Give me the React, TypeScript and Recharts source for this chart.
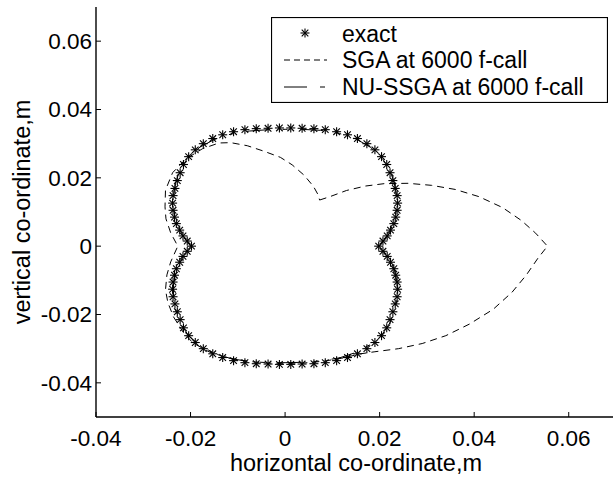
import { ScatterChart, Scatter, XAxis, YAxis } from "recharts";

// exact boundary (x, y in m)
const exactPts: number[][] = [
  [0.0198, 0], [0.0207, 0.0015], [0.0216, 0.003], [0.0223, 0.0047], [0.023, 0.0066], [0.0234, 0.0085],
  [0.0237, 0.0105], [0.0238, 0.0126], [0.0237, 0.0148], [0.0233, 0.0169], [0.0228, 0.0192], [0.0222, 0.0215],
  [0.0215, 0.0239], [0.0204, 0.0262], [0.019, 0.0282], [0.0173, 0.03], [0.0153, 0.0315], [0.0132, 0.0326],
  [0.0109, 0.0335], [0.0085, 0.0341], [0.0061, 0.0344], [0.0036, 0.0345], [0.0012, 0.0346],
  [-0.0012, 0.0346], [-0.0036, 0.0345], [-0.0061, 0.0344], [-0.0085, 0.0341], [-0.0109, 0.0335], [-0.0132, 0.0326],
  [-0.0153, 0.0315], [-0.0173, 0.03], [-0.019, 0.0282], [-0.0204, 0.0262], [-0.0215, 0.0239], [-0.0222, 0.0215],
  [-0.0228, 0.0192], [-0.0233, 0.0169], [-0.0237, 0.0148], [-0.0238, 0.0126], [-0.0237, 0.0105], [-0.0234, 0.0085],
  [-0.023, 0.0066], [-0.0223, 0.0047], [-0.0216, 0.003], [-0.0207, 0.0015],
  [-0.0198, 0],
  [-0.0207, -0.0015], [-0.0216, -0.003], [-0.0223, -0.0047], [-0.023, -0.0066], [-0.0234, -0.0085], [-0.0237, -0.0105],
  [-0.0238, -0.0126], [-0.0237, -0.0148], [-0.0233, -0.0169], [-0.0228, -0.0192], [-0.0222, -0.0215], [-0.0215, -0.0239],
  [-0.0204, -0.0262], [-0.019, -0.0282], [-0.0173, -0.03], [-0.0153, -0.0315], [-0.0132, -0.0326], [-0.0109, -0.0335],
  [-0.0085, -0.0341], [-0.0061, -0.0344], [-0.0036, -0.0345], [-0.0012, -0.0346],
  [0.0012, -0.0346], [0.0036, -0.0345], [0.0061, -0.0344], [0.0085, -0.0341], [0.0109, -0.0335], [0.0132, -0.0326],
  [0.0153, -0.0315], [0.0173, -0.03], [0.019, -0.0282], [0.0204, -0.0262], [0.0215, -0.0239], [0.0222, -0.0215],
  [0.0228, -0.0192], [0.0233, -0.0169], [0.0237, -0.0148], [0.0238, -0.0126], [0.0237, -0.0105], [0.0234, -0.0085],
  [0.023, -0.0066], [0.0223, -0.0047], [0.0216, -0.003], [0.0207, -0.0015],
];

// SGA result at 6000 f-call
const sgaPts: number[][] = [
  [0.0073, 0.0135], [0.0095, 0.0145], [0.013, 0.0163], [0.017, 0.0176], [0.021, 0.0183], [0.026, 0.0184],
  [0.031, 0.0178], [0.036, 0.0166], [0.041, 0.0145], [0.046, 0.0113], [0.05, 0.0075], [0.053, 0.0038],
  [0.0555, 0], [0.0535, -0.0035], [0.051, -0.0085], [0.048, -0.0135], [0.044, -0.0185], [0.039, -0.0228],
  [0.034, -0.0262], [0.029, -0.0285], [0.024, -0.03], [0.019, -0.0309], [0.016, -0.0315], [0.012, -0.0328],
  [0.008, -0.0337], [0.004, -0.0342], [0, -0.0343], [-0.004, -0.0342], [-0.008, -0.0337], [-0.012, -0.0327],
  [-0.016, -0.031], [-0.0195, -0.0283], [-0.0215, -0.0253], [-0.0236, -0.0207], [-0.0248, -0.0165],
  [-0.0253, -0.0128], [-0.025, -0.0084], [-0.0242, -0.0046], [-0.0227, 0], [-0.0242, 0.0039], [-0.0252, 0.008],
  [-0.0254, 0.0115], [-0.0253, 0.0164], [-0.0238, 0.0215], [-0.021, 0.0255], [-0.0175, 0.0285], [-0.014, 0.0302],
  [-0.0115, 0.0303], [-0.008, 0.0294], [-0.0045, 0.0278], [-0.001, 0.026], [0.0015, 0.0238], [0.004, 0.0208],
  [0.006, 0.0175], [0.007, 0.015], [0.0073, 0.0135],
];

// NU-SSGA result at 6000 f-call
const nuPts: number[][] = [
  [0.02, 0], [0.0218, 0.0032], [0.023, 0.007], [0.0236, 0.011], [0.0236, 0.015], [0.023, 0.019], [0.022, 0.0228],
  [0.0204, 0.026], [0.018, 0.029], [0.015, 0.0314], [0.0115, 0.033], [0.0075, 0.0339], [0.0035, 0.0342], [0, 0.0342],
  [-0.0035, 0.0341], [-0.0075, 0.0337], [-0.0115, 0.0328], [-0.015, 0.0312], [-0.018, 0.029], [-0.0205, 0.026],
  [-0.0222, 0.0225], [-0.0231, 0.0188], [-0.0236, 0.015], [-0.0236, 0.011], [-0.023, 0.007], [-0.0217, 0.0032],
  [-0.02, 0], [-0.0217, -0.0032], [-0.023, -0.007], [-0.0236, -0.011], [-0.0236, -0.015], [-0.0231, -0.019],
  [-0.0221, -0.0227], [-0.0204, -0.0262], [-0.018, -0.0291], [-0.015, -0.0313], [-0.0115, -0.0329], [-0.0075, -0.0338],
  [-0.0035, -0.0341], [0, -0.0341], [0.0035, -0.034], [0.0075, -0.0336], [0.0115, -0.0327], [0.015, -0.0311],
  [0.018, -0.0288], [0.0205, -0.0259], [0.0222, -0.0224], [0.0232, -0.0187], [0.0238, -0.0148], [0.0237, -0.0108],
  [0.0231, -0.0068], [0.0218, -0.0031], [0.02, 0],
];

const xTicks = [-0.04, -0.02, 0, 0.02, 0.04, 0.06];
const yTicks = [-0.04, -0.02, 0, 0.02, 0.04, 0.06];

const FONT = "'Liberation Sans', Arial, Helvetica, sans-serif";
const SGA_DASH = "7 5";
const NU_DASH = "23 13 5 13";

const toXY = (pts: number[][]) => pts.map(([x, y]) => ({ x, y }));

function Asterisk({ cx, cy }: { cx?: number; cy?: number }) {
  if (cx == null || cy == null) return <g />;
  return (
    <g stroke="#000" strokeWidth={1.1}>
      <line x1={cx - 4.5} y1={cy} x2={cx + 4.5} y2={cy} />
      <line x1={cx} y1={cy - 4.5} x2={cx} y2={cy + 4.5} />
      <line x1={cx - 3.3} y1={cy - 3.3} x2={cx + 3.3} y2={cy + 3.3} />
      <line x1={cx - 3.3} y1={cy + 3.3} x2={cx + 3.3} y2={cy - 3.3} />
    </g>
  );
}

const tickStyle = { fontSize: 22.5, fill: "#000", fontFamily: FONT };

export default function App() {
  return (
    <div style={{ position: "absolute", left: 0, top: 0, width: 613, height: 477, overflow: "hidden", background: "#fff" }}>
      <ScatterChart width={624} height={477} margin={{ top: 7, right: 8, bottom: 0, left: 0 }}>
        <XAxis
          xAxisId="b" type="number" dataKey="x" domain={[-0.04, 0.07]} ticks={xTicks} interval={0}
          allowDataOverflow height={60} tickSize={-5} tickMargin={18}
          stroke="#000" axisLine={{ stroke: "#000", strokeWidth: 1.4 }} tick={tickStyle}
          label={{ value: "horizontal co-ordinate,m", position: "insideBottom", offset: 6, style: { fontSize: 23.5, fill: "#000", fontFamily: FONT } }}
        />
        <XAxis
          xAxisId="t" orientation="top" type="number" dataKey="x" domain={[-0.04, 0.07]} ticks={xTicks} interval={0}
          allowDataOverflow height={0} tickSize={-5} tick={false} stroke="#000" axisLine={{ stroke: "#000", strokeWidth: 1.4 }}
        />
        <YAxis
          yAxisId="l" type="number" dataKey="y" domain={[-0.05, 0.07]} ticks={yTicks} interval={0}
          allowDataOverflow width={96} tickSize={-5} tickMargin={9}
          stroke="#000" axisLine={{ stroke: "#000", strokeWidth: 1.4 }} tick={tickStyle}
          label={{ value: "vertical co-ordinate,m", angle: -90, position: "insideLeft", offset: 22, style: { fontSize: 23.5, fill: "#000", fontFamily: FONT, textAnchor: "middle" } }}
        />
        <YAxis
          yAxisId="r" orientation="right" type="number" dataKey="y" domain={[-0.05, 0.07]} ticks={yTicks} interval={0}
          allowDataOverflow width={0} tickSize={-5} tick={false} stroke="#000"
        />
        <Scatter
          xAxisId="b" yAxisId="l" data={toXY(nuPts)} lineType="joint"
          line={{ stroke: "#000", strokeWidth: 1, strokeDasharray: NU_DASH }}
          shape={() => <g />} isAnimationActive={false}
        />
        <Scatter
          xAxisId="b" yAxisId="l" data={toXY(sgaPts)} lineType="joint"
          line={{ stroke: "#000", strokeWidth: 1, strokeDasharray: SGA_DASH }}
          shape={() => <g />} isAnimationActive={false}
        />
        <Scatter
          xAxisId="b" yAxisId="l" data={toXY(exactPts)}
          shape={(p: any) => <Asterisk cx={p.cx} cy={p.cy} />} isAnimationActive={false}
        />
      </ScatterChart>

      {/* legend box */}
      <svg style={{ position: "absolute", left: 271, top: 17 }} width={337} height={86}>
        <rect x={0.5} y={0.5} width={336} height={85} fill="#fff" stroke="#000" strokeWidth={1.2} />
        <Asterisk cx={34} cy={16} />
        <line x1={13} y1={43} x2={56} y2={43} stroke="#000" strokeDasharray="6 4" />
        <line x1={13} y1={70} x2={56} y2={70} stroke="#000" strokeDasharray={NU_DASH} />
        <g fontFamily={FONT} fontSize={23} fill="#000">
          <text x={71} y={25}>exact</text>
          <text x={71} y={51}>SGA at 6000 f-call</text>
          <text x={71} y={78}>NU-SSGA at 6000 f-call</text>
        </g>
      </svg>
    </div>
  );
}
